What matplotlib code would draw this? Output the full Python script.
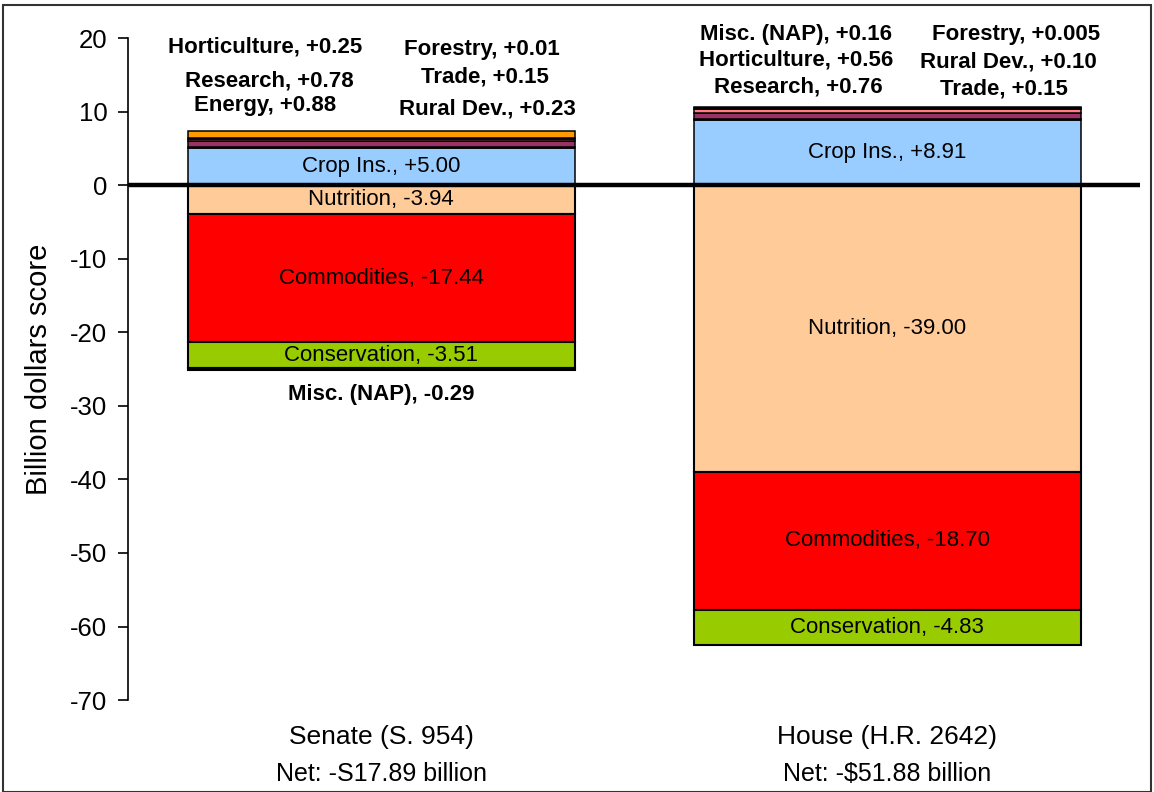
import matplotlib.pyplot as plt
from matplotlib.patches import Rectangle
from matplotlib.transforms import blended_transform_factory

plt.rcParams['font.family'] = ['Liberation Sans', 'DejaVu Sans']
plt.rcParams['axes.unicode_minus'] = False

bills = ['Senate (S. 954)', 'House (H.R. 2642)']
nets = ['Net: -S17.89 billion', 'Net: -$51.88 billion']

# stacked from zero outward: positives upward, negatives downward
pos_names = ['Crop Ins.', 'Rural Dev.', 'Forestry', 'Research', 'Horticulture', 'Misc. (NAP)', 'Trade', 'Energy']
senate_pos = [5.00, 0.23, 0.01, 0.78, 0.25, 0.0, 0.15, 0.88]
house_pos = [8.91, 0.10, 0.005, 0.76, 0.56, 0.16, 0.15, 0.0]
pos_colors = ['#99CCFF', '#FFFF00', '#008000', '#993366', '#FF7C80', '#222222', '#FF9900', '#FF9900']

neg_names = ['Nutrition', 'Commodities', 'Conservation', 'Misc. (NAP)']
senate_neg = [-3.94, -17.44, -3.51, -0.29]
house_neg = [-39.00, -18.70, -4.83, 0.0]
neg_colors = ['#FFCC99', '#FF0000', '#99CC00', '#222222']

fig = plt.figure(figsize=(11.54, 7.92), dpi=100)
ax = fig.add_axes([0.111, 0.116, 0.877, 0.836])
xs = [0, 1]
w = 0.765

for vals_p, vals_n, x in [(senate_pos, senate_neg, 0), (house_pos, house_neg, 1)]:
    base = 0
    for name, v, c in zip(pos_names, vals_p, pos_colors):
        if v > 0:
            ax.bar(x, v, w, bottom=base, color=c, edgecolor='black', linewidth=1.1)
            if name == 'Crop Ins.':
                ax.text(x, base + v / 2, f'{name}, +{v:.2f}', ha='center', va='center', fontsize=16)
        base += v
    base = 0
    for name, v, c in zip(neg_names, vals_n, neg_colors):
        if v < 0:
            ax.bar(x, v, w, bottom=base, color=c, edgecolor='black', linewidth=1.5)
            if name != 'Misc. (NAP)':
                ax.text(x, base + v / 2, f'{name}, {v:.2f}', ha='center', va='center', fontsize=16)
        base += v

# outside labels for the thin segments
bold = dict(ha='center', va='center', fontsize=16, fontweight='bold')
ax.text(-0.23, 18.8, 'Horticulture, +0.25', **bold)
ax.text(-0.22, 14.2, 'Research, +0.78', **bold)
ax.text(-0.23, 10.8, 'Energy, +0.88', **bold)
ax.text(0.20, 18.5, 'Forestry, +0.01', **bold)
ax.text(0.205, 14.7, 'Trade, +0.15', **bold)
ax.text(0.21, 10.4, 'Rural Dev., +0.23', **bold)
ax.text(0, -28.4, 'Misc. (NAP), -0.29', **bold)
ax.text(0.82, 20.5, 'Misc. (NAP), +0.16', **bold)
ax.text(0.82, 17.0, 'Horticulture, +0.56', **bold)
ax.text(0.825, 13.3, 'Research, +0.76', **bold)
ax.text(1.255, 20.5, 'Forestry, +0.005', **bold)
ax.text(1.24, 16.8, 'Rural Dev., +0.10', **bold)
ax.text(1.23, 13.1, 'Trade, +0.15', **bold)

ax.axhline(0, color='black', linewidth=3.2, zorder=5)

ax.set_xlim(-0.5, 1.5)
ax.set_ylim(-70, 20)
ax.set_yticks(range(-70, 21, 10))
ax.tick_params(axis='y', labelsize=18.5, direction='out', length=7, width=1.2, pad=8)
ax.set_xticks([])
for s in ['top', 'right', 'bottom']:
    ax.spines[s].set_visible(False)
ax.spines['left'].set_linewidth(1.2)
ax.set_ylabel('Billion dollars score', fontsize=21, labelpad=12)

tr = blended_transform_factory(ax.transData, fig.transFigure)
for x, b, n in zip(xs, bills, nets):
    fig.text(x, 1 - 737 / 792, b, transform=tr, ha='center', va='center', fontsize=19)
    fig.text(x, 1 - 774 / 792, n, transform=tr, ha='center', va='center', fontsize=18)

fig.patches.append(Rectangle((0.003, 0.0), 0.994, 0.994, transform=fig.transFigure,
                             fill=False, edgecolor='#333333', linewidth=1.5))

fig.savefig('out.png', dpi=100)
